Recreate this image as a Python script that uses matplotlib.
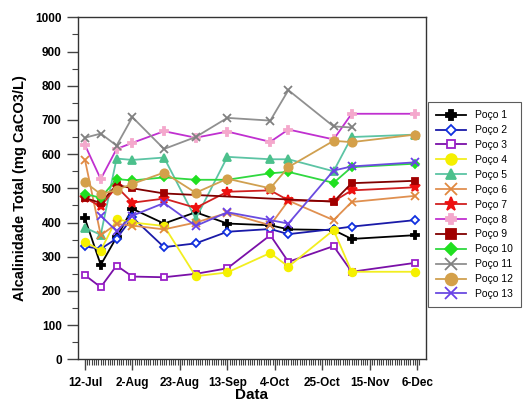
import numpy as np
import pandas as pd
import matplotlib
matplotlib.use('Agg')
import matplotlib.pyplot as plt
import matplotlib.dates as mdates

plt.rcParams['font.family'] = ['Liberation Sans', 'DejaVu Sans']

### DATA

dates = ['2015-07-12', '2015-07-19', '2015-07-26', '2015-08-02', '2015-08-16', '2015-08-30',
         '2015-09-13', '2015-10-02', '2015-10-10', '2015-10-30', '2015-11-07', '2015-12-05']
nan = np.nan

p1 = [412, 276, 357, 440, 397, 430, 397, 392, 380, 378, 352, 363]
p2 = [330, 323, 353, 415, 328, 339, 373, 381, 366, 381, 388, 407]
p3 = [246, 211, 274, 242, 240, 250, 266, 363, 285, 331, 256, 282]
p4 = [344, 318, 410, 400, 390, 243, 254, 311, 271, 378, 256, 256]
p5 = [385, 364, 587, 583, 590, 411, 592, 585, 585, 550, 650, 657]
p6 = [584, 363, 396, 391, 380, 400, 428, 392, 464, 407, 460, 478]
p7 = [472, 447, 505, 458, 470, 443, 490, 494, 465, 462, 494, 503]
p8 = [627, 527, 615, 633, 667, 648, 666, 636, 672, 643, 718, 718]
p9 = [472, 457, 510, 500, 485, nan, nan, nan, nan, 461, 515, 522]
p10 = [484, 472, 527, 523, 532, 525, 525, 544, 548, 516, 562, 572]
p11 = [648, 660, 625, 708, 615, 650, 706, 698, 787, 681, 678, nan]
p12 = [518, 483, 495, 513, 546, 487, 528, 500, 562, 639, 635, 657]
p13 = [nan, 420, 375, 420, 457, 390, 430, 407, 397, 552, 564, 576]

labels = ['Poço %d' % i for i in range(1, 14)]
series = [p1, p2, p3, p4, p5, p6, p7, p8, p9, p10, p11, p12, p13]

tick_dates = ['2015-07-12', '2015-08-02', '2015-08-23', '2015-09-13',
              '2015-10-04', '2015-10-25', '2015-11-15', '2015-12-06']
tick_labels = ['12-Jul', '2-Aug', '23-Aug', '13-Sep', '4-Oct', '25-Oct', '15-Nov', '6-Dec']

# styles: line color, marker, marker face, marker edge, size
styles = [
    ('black', 'P', 'black', 'black', 5.5),
    ('#1a1aa8', 'D', 'white', '#1030e0', 4),
    ('#7a10a8', 's', 'white', '#9a20c8', 4.5),
    ('#f2ee20', 'o', '#f5f000', '#f5f000', 5.5),
    ('#5cc4a4', '^', '#4cc08c', '#4cc08c', 5.5),
    ('#e09050', 'x', 'none', '#e08840', 6),
    ('#d02020', '*', '#ee1010', '#ee1010', 7),
    ('#c030d0', 'P', '#f4a8cc', '#f4a8cc', 5.5),
    ('#800000', 's', '#a00000', '#a00000', 5),
    ('#30d840', 'D', '#20e020', '#20e020', 4.5),
    ('#909090', 'x', 'none', '#808080', 6),
    ('#d0a050', 'o', '#d4a04a', '#d4a04a', 6),
    ('#6a4be0', 'x', 'none', '#6a40e8', 6),
]

x = pd.to_datetime(dates)

fig = plt.figure(figsize=(5.27, 4.03), dpi=100)
ax = fig.add_axes([0.1474, 0.1084, 0.6606, 0.8486])

for s, lab, (lc, m, mf, me, ms) in zip(series, labels, styles):
    v = np.array(s, dtype=float)
    ok = ~np.isnan(v)
    ax.plot(x[ok], v[ok], color=lc, lw=1.3, marker=m, markersize=ms,
            markerfacecolor=mf, markeredgecolor=me, markeredgewidth=1.3, label=lab)

start = pd.Timestamp('2015-07-12')
ax.set_xlim(mdates.date2num(start - pd.Timedelta(days=3.2)),
            mdates.date2num(start + pd.Timedelta(days=150.8)))
ax.set_ylim(0, 1000)

ax.set_xticks(mdates.date2num(pd.to_datetime(tick_dates)))
ax.set_xticklabels(tick_labels, fontsize=8.5, fontweight='bold')
ax.set_xticks(mdates.date2num(pd.date_range('2015-07-12', '2015-12-07', freq='D')), minor=True)
ax.set_yticks(range(0, 1001, 100))
ax.set_yticklabels([str(v) for v in range(0, 1001, 100)], fontsize=8.5, fontweight='bold')
ax.set_yticks(range(50, 1000, 100), minor=True)

ax.tick_params(axis='both', which='major', direction='out', length=8, width=1, color='#444444')
ax.tick_params(axis='both', which='minor', direction='out', length=4, width=0.8, color='#444444')
ax.tick_params(axis='x', which='major', pad=5)
for sp in ax.spines.values():
    sp.set_color('#333333')
    sp.set_linewidth(1)

ax.set_ylabel('Alcalinidade Total (mg CaCO3/L)', fontsize=10.5, fontweight='bold', labelpad=6)
ax.set_xlabel('Data', fontsize=11, fontweight='bold', labelpad=-1)

leg = fig.legend(loc='upper left', bbox_to_anchor=(0.812, 0.747), borderaxespad=0,
                 fontsize=7.5, markerscale=1.4, handlelength=2.9, labelspacing=0.47,
                 borderpad=0.8, handletextpad=0.8, fancybox=False, frameon=True,
                 edgecolor='#333333')
leg.get_frame().set_linewidth(0.8)

plt.savefig('out.png', dpi=100)
